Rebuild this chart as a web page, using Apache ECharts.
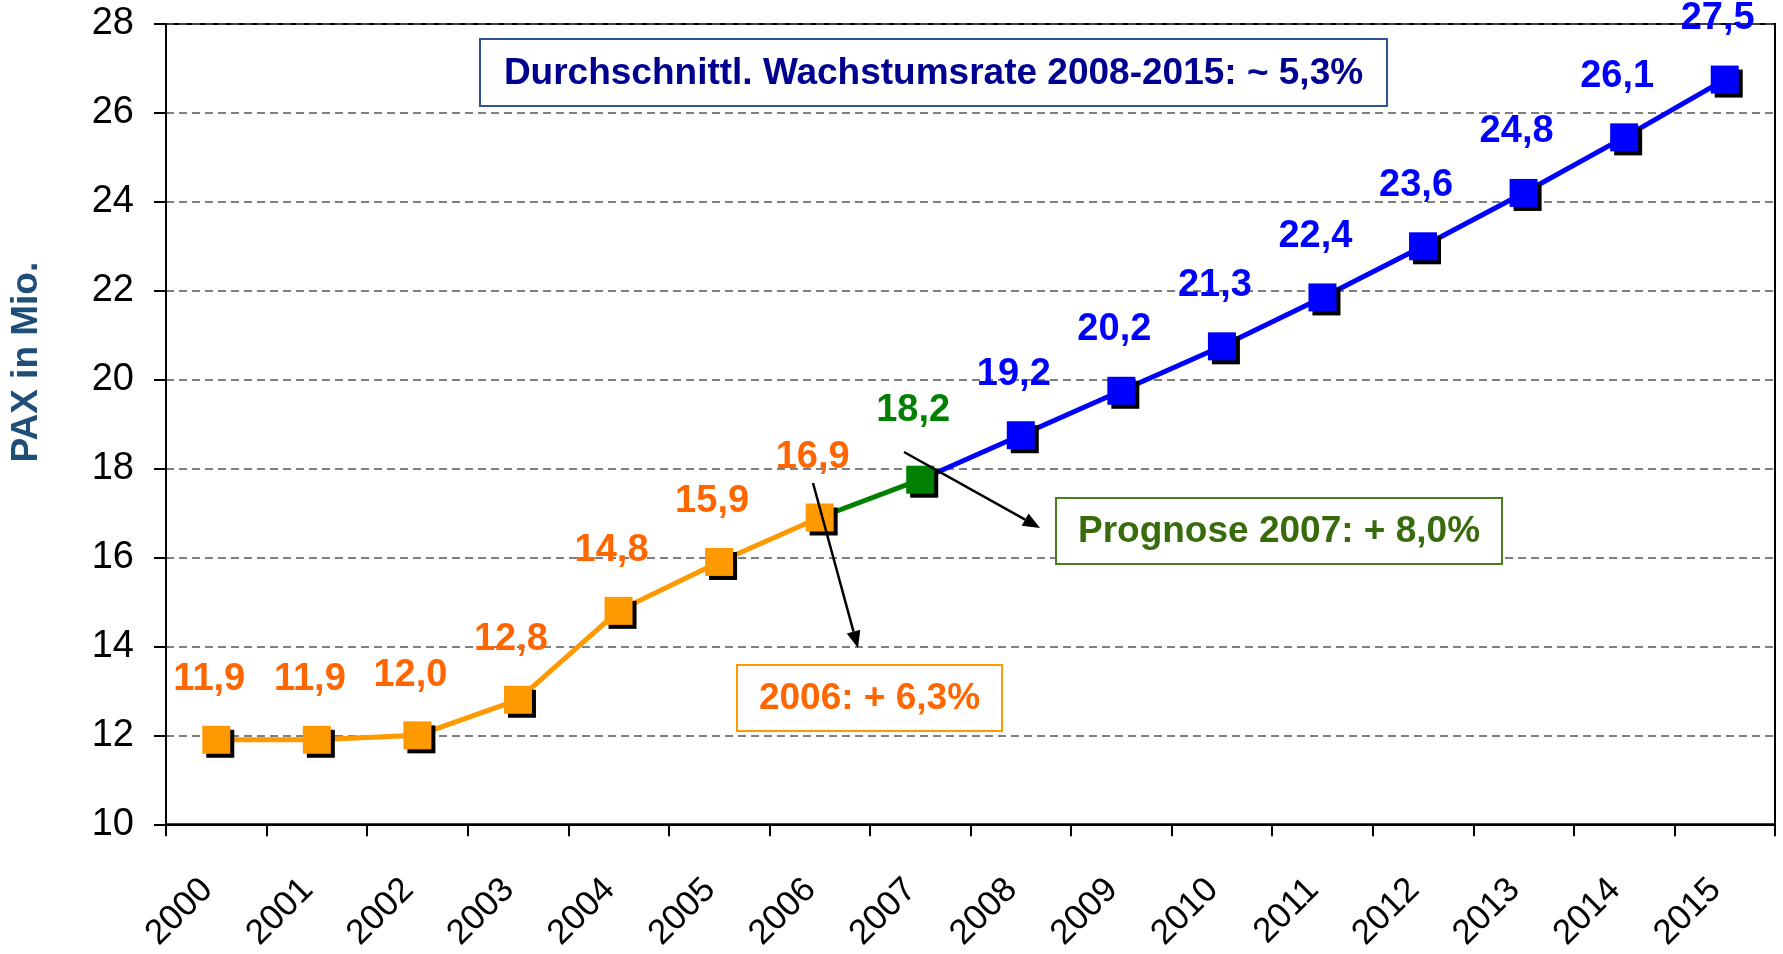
<!DOCTYPE html>
<html>
<head>
<meta charset="utf-8">
<script src="https://cdn.jsdelivr.net/npm/echarts@6/dist/echarts.min.js"></script>
<style>
  html, body { margin: 0; padding: 0; background: #fff; }
  #chart { width: 1783px; height: 954px; }
</style>
</head>
<body>
<div id="chart"></div>
<script>
// categories
const years = ['2000', '2001', '2002', '2003', '2004', '2005', '2006', '2007',
  '2008', '2009', '2010', '2011', '2012', '2013', '2014', '2015'];

// plotted values and their printed labels
const actualValues = [11.9, 11.9, 12.0, 12.8, 14.8, 15.9, 16.9];      // 2000-2006
const actualLabels = ['11,9', '11,9', '12,0', '12,8', '14,8', '15,9', '16,9'];
const forecastValues = [17.75];                                       // 2007
const forecastLabels = ['18,2'];
const projectedValues = [18.75, 19.75, 20.75, 21.85, 23.0, 24.2, 25.45, 26.75]; // 2008-2015
const projectedLabels = ['19,2', '20,2', '21,3', '22,4', '23,6', '24,8', '26,1', '27,5'];

// y axis range
const yMin = 10;
const yMax = 28;
const yStep = 2;

const FONT = "'Liberation Sans', Arial, sans-serif";
const ORANGE = '#FF9900';
const ORANGE_TEXT = '#FF6600';
const GREEN = '#008000';
const BLUE = '#0000FF';

const forecastIdx = actualValues.length;               // 7
const projStart = forecastIdx + forecastValues.length; // 8
const hidden = (v) => ({ value: v, symbol: 'none', label: { show: false } });

const orangeData = years.map((y, i) => (i < actualValues.length ? actualValues[i] : '-'));
const greenData = years.map((y, i) => {
  if (i === forecastIdx - 1) return hidden(actualValues[actualValues.length - 1]);
  if (i >= forecastIdx && i < projStart) return forecastValues[i - forecastIdx];
  return '-';
});
const blueData = years.map((y, i) => {
  if (i === projStart - 1) return hidden(forecastValues[forecastValues.length - 1]);
  if (i >= projStart) return projectedValues[i - projStart];
  return '-';
});

const markerStyle = (color) => ({
  color: color,
  shadowColor: '#000',
  shadowBlur: 0,
  shadowOffsetX: 4,
  shadowOffsetY: 4,
});

const labelStyle = (color, dist) => ({
  show: true,
  position: 'top',
  distance: dist,
  offset: [-7, 0],
  color: color,
  fontFamily: FONT,
  fontWeight: 'bold',
  fontSize: 38,
});

// arrow drawn as line + triangle head
function arrow(x1, y1, x2, y2) {
  const ang = Math.atan2(y2 - y1, x2 - x1);
  const len = 17, half = 7;
  const bx = x2 - len * Math.cos(ang), by = y2 - len * Math.sin(ang);
  const px = -Math.sin(ang) * half, py = Math.cos(ang) * half;
  return [
    { type: 'line', shape: { x1: x1, y1: y1, x2: bx, y2: by }, style: { stroke: '#000', lineWidth: 2.5 }, z: 100 },
    { type: 'polygon', shape: { points: [[x2, y2], [bx + px, by + py], [bx - px, by - py]] }, style: { fill: '#000' }, z: 100 },
  ];
}

function box(x, y, w, h, text, border, color, size) {
  return [
    { type: 'rect', shape: { x: x, y: y, width: w, height: h }, style: { fill: '#fff', stroke: border, lineWidth: 2 }, z: 90 },
    {
      type: 'text', x: x + w / 2, y: y + h / 2 + 1, z: 91,
      style: { text: text, fill: color, font: 'bold ' + size + 'px ' + FONT, align: 'center', verticalAlign: 'middle' },
    },
  ];
}

const chart = echarts.init(document.getElementById('chart'));
const option = {
  animation: false,
  backgroundColor: '#fff',
  grid: {
    left: 149, right: 8, top: 24, bottom: 127,
    show: true, borderColor: '#000', borderWidth: 2,
  },
  xAxis: {
    type: 'category',
    data: years,
    boundaryGap: true,
    axisLine: { lineStyle: { color: '#000', width: 2 } },
    axisTick: { show: true, length: 12, lineStyle: { color: '#000', width: 2 } },
    axisLabel: {
      rotate: 45, margin: 51, color: '#000', fontFamily: FONT, fontSize: 35, interval: 0,
      padding: [0, 13, 0, 0],
    },
  },
  yAxis: {
    type: 'value',
    min: yMin, max: yMax, interval: yStep,
    name: 'PAX in Mio.',
    nameLocation: 'middle',
    nameRotate: 90,
    nameGap: 121,
    nameTextStyle: {
      color: '#1F4E79', fontFamily: FONT, fontWeight: 'bold', fontSize: 37,
      padding: [0, 0, 0, 124],
    },
    axisLine: { show: true, lineStyle: { color: '#000', width: 2 } },
    axisTick: { show: true, length: 12, lineStyle: { color: '#000', width: 2 } },
    axisLabel: { margin: 32, color: '#000', fontFamily: FONT, fontSize: 38 },
    splitLine: { show: true, lineStyle: { color: '#555', width: 1.5, type: [8, 5] } },
  },
  series: [
    {
      name: 'Prognose 2008-2015', type: 'line', data: blueData,
      symbol: 'rect', symbolSize: 28,
      lineStyle: { color: BLUE, width: 5 },
      itemStyle: markerStyle(BLUE),
      label: Object.assign(labelStyle(BLUE, 28), {
        formatter: (p) => projectedLabels[p.dataIndex - projStart],
      }),
      z: 3,
    },
    {
      name: 'Prognose 2007', type: 'line', data: greenData,
      symbol: 'rect', symbolSize: 28,
      lineStyle: { color: GREEN, width: 5 },
      itemStyle: markerStyle(GREEN),
      label: Object.assign(labelStyle(GREEN, 36), {
        formatter: (p) => forecastLabels[p.dataIndex - forecastIdx],
      }),
      z: 4,
    },
    {
      name: 'Ist', type: 'line', data: orangeData,
      symbol: 'rect', symbolSize: 28,
      lineStyle: { color: ORANGE, width: 5 },
      itemStyle: markerStyle(ORANGE),
      label: Object.assign(labelStyle(ORANGE_TEXT, 27), {
        formatter: (p) => actualLabels[p.dataIndex],
      }),
      z: 5,
    },
  ],
  graphic: [].concat(
    box(480, 39, 907, 67, 'Durchschnittl. Wachstumsrate 2008-2015: ~ 5,3%', '#2E5293', '#000090', 37),
    box(1056, 498, 446, 66, 'Prognose 2007: + 8,0%', '#4A7D1E', '#386B0C', 37),
    box(737, 665, 265, 66, '2006: + 6,3%', ORANGE, ORANGE_TEXT, 37),
    arrow(813, 483, 858, 648),
    arrow(904, 452, 1040, 528)
  ),
};
chart.setOption(option);
</script>
</body>
</html>
